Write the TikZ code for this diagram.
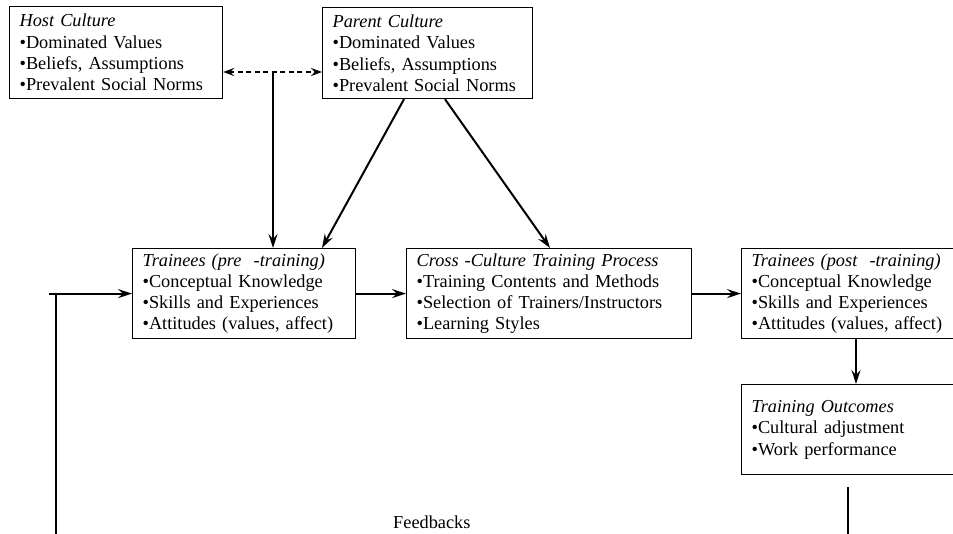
\documentclass[tikz,border=0pt]{standalone}
\usepackage{fontspec}
\setmainfont{Liberation Serif}
\usetikzlibrary{arrows.meta,calc}
\begin{document}
\begin{tikzpicture}[x=1pt,y=-1pt,
  box/.style={draw,line width=1.2pt,anchor=north west,minimum height=90pt,
    inner xsep=10pt,inner ysep=0pt,align=left,
    font=\fontsize{18.3}{21.3}\selectfont},
  arr/.style={line width=2pt,-{Stealth[length=14pt,width=9pt,inset=5pt]}},
  dasharr/.style={line width=2.4pt,dash pattern=on 5pt off 3.5pt,
    {Stealth[length=11pt,width=8pt,inset=4pt]}-{Stealth[length=11pt,width=8pt,inset=4pt]}},
  plain/.style={line width=1.7pt}]
\useasboundingbox (0,0) rectangle (953,533);
\node[box,text width=193pt,minimum height=92pt] (host) at (9,6)
  {\textit{Host Culture}\\•Dominated Values\\•Beliefs, Assumptions\\•Prevalent Social Norms};
\node[box,text width=190pt,minimum height=91pt] (parent) at (322,7)
  {\textit{Parent Culture}\\•Dominated Values\\•Beliefs, Assumptions\\•Prevalent Social Norms};
\node[box,text width=203pt] (pre) at (132,248)
  {\textit{Trainees (pre\ \ -training)}\\•Conceptual Knowledge\\•Skills and Experiences\\•Attitudes (values, affect)};
\node[box,text width=265pt] (cross) at (406,248)
  {\textit{Cross -Culture Training Process}\\•Training Contents and Methods\\•Selection of Trainers/Instructors\\•Learning Styles};
\node[box,text width=210pt] (post) at (741,248)
  {\textit{Trainees (post\ \ -training)}\\•Conceptual Knowledge\\•Skills and Experiences\\•Attitudes (values, affect)};
\node[box,text width=210pt] (out) at (741,384)
  {\textit{Training Outcomes}\\•Cultural adjustment\\•Work performance};
\node[anchor=base west,inner sep=0pt,font=\fontsize{18.3}{21.3}\selectfont] (fb) at (393,528) {Feedbacks};
% connectors
\coordinate (dm) at (273,72);
\draw[dasharr] (host.east |- dm) -- (parent.west |- dm);
\draw[arr] (dm) -- (dm |- pre.north);
\draw[arr] ($(parent.south west)+(82,0)$) -- ($(pre.north west)+(190,0)$);
\draw[arr] ($(parent.south west)+(123,0)$) -- ($(cross.north west)+(144,0)$);
\draw[arr] (pre.east) -- (cross.west);
\draw[arr] (cross.east) -- (post.west);
\coordinate (pd) at ($(post.south west)+(115,0)$);
\draw[arr] (pd) -- (pd |- out.north);
\coordinate (fbh) at (49,540);
\coordinate (fbv) at (56,540);
\draw[arr] (fbh |- pre.west) -- (pre.west);
\draw[plain] (fbv) -- (fbv |- pre.west);
\coordinate (frt) at (848,487);
\coordinate (frb) at (848,540);
\draw[plain] (frt) -- (frb);
\end{tikzpicture}
\end{document}
